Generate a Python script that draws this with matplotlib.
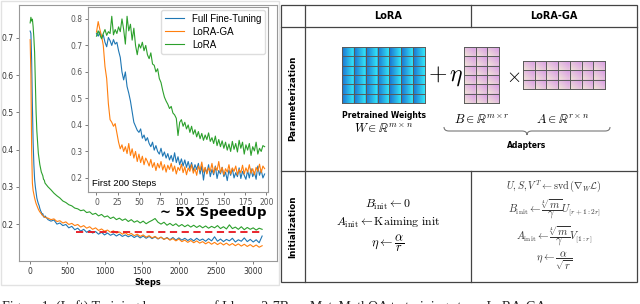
import numpy as np
import matplotlib
matplotlib.use("Agg")
import matplotlib.pyplot as plt
from matplotlib.patches import Rectangle, PathPatch
from matplotlib.path import Path

plt.rcParams['mathtext.fontset'] = 'cm'

# ---------------- data ----------------
series_names = ["Full Fine-Tuning", "LoRA-GA", "LoRA"]
series_colors = ["#1f77b4", "#ff7f0e", "#2ca02c"]

# main plot: steps 0..200 every 10, then 240..3120 every 40
full_early = [0.718, 0.712, 0.640, 0.520, 0.420, 0.360, 0.320, 0.300, 0.285, 0.270, 0.262,
              0.255, 0.250, 0.242, 0.236, 0.232, 0.225, 0.228, 0.220, 0.218, 0.222]
ga_early = [0.695, 0.600, 0.400, 0.310, 0.290, 0.280, 0.270, 0.262, 0.255, 0.250, 0.245,
            0.240, 0.236, 0.233, 0.230, 0.228, 0.225, 0.223, 0.221, 0.220, 0.218]
lora_early = [0.740, 0.755, 0.745, 0.750, 0.730, 0.700, 0.660, 0.580, 0.500, 0.450, 0.420,
              0.390, 0.375, 0.360, 0.350, 0.340, 0.335, 0.330, 0.320, 0.318, 0.310]

full_late = [0.212, 0.208, 0.211, 0.200, 0.203, 0.196, 0.199, 0.190, 0.194, 0.185, 0.189, 0.181,
             0.186, 0.178, 0.183, 0.176, 0.180, 0.173, 0.178, 0.171, 0.176, 0.170, 0.174, 0.168,
             0.173, 0.167, 0.171, 0.166, 0.170, 0.164, 0.169, 0.163, 0.168, 0.162, 0.167, 0.161,
             0.166, 0.160, 0.165, 0.159, 0.164, 0.158, 0.164, 0.157, 0.163, 0.157, 0.162, 0.156,
             0.161, 0.155, 0.162, 0.156, 0.160, 0.154, 0.161, 0.155, 0.166, 0.154, 0.160, 0.153,
             0.159, 0.155, 0.162, 0.152, 0.158, 0.154, 0.163, 0.153, 0.159, 0.152, 0.158, 0.150,
             0.168]
ga_late = [0.216, 0.212, 0.214, 0.207, 0.209, 0.203, 0.206, 0.199, 0.202, 0.196, 0.199, 0.192,
           0.196, 0.189, 0.193, 0.186, 0.190, 0.183, 0.187, 0.181, 0.184, 0.178, 0.182, 0.176,
           0.179, 0.173, 0.177, 0.171, 0.175, 0.169, 0.173, 0.167, 0.171, 0.165, 0.169, 0.163,
           0.167, 0.161, 0.165, 0.159, 0.163, 0.157, 0.161, 0.155, 0.160, 0.153, 0.157, 0.151,
           0.156, 0.150, 0.155, 0.149, 0.153, 0.147, 0.152, 0.146, 0.151, 0.145, 0.150, 0.144,
           0.149, 0.143, 0.148, 0.142, 0.147, 0.141, 0.146, 0.140, 0.145, 0.139, 0.144, 0.138,
           0.142]
lora_late = [0.300, 0.292, 0.283, 0.276, 0.270, 0.262, 0.258, 0.252, 0.249, 0.243, 0.241, 0.236,
             0.238, 0.231, 0.233, 0.226, 0.229, 0.222, 0.226, 0.219, 0.222, 0.215, 0.219, 0.212,
             0.216, 0.210, 0.214, 0.207, 0.212, 0.205, 0.209, 0.203, 0.208, 0.201, 0.206, 0.210,
             0.215, 0.205, 0.200, 0.205, 0.197, 0.202, 0.196, 0.201, 0.194, 0.199, 0.193, 0.198,
             0.192, 0.197, 0.191, 0.196, 0.190, 0.195, 0.189, 0.194, 0.190, 0.196, 0.188, 0.193,
             0.187, 0.198, 0.188, 0.192, 0.186, 0.193, 0.185, 0.191, 0.186, 0.190, 0.184, 0.189,
             0.186]

# inset: first 200 steps, every 2 steps
full_first200 = [0.745, 0.735, 0.752, 0.728, 0.740, 0.712, 0.695, 0.730, 0.718, 0.700,
                 0.722, 0.705, 0.712, 0.680, 0.655, 0.600, 0.570, 0.600, 0.545, 0.520,
                 0.490, 0.450, 0.410, 0.395, 0.380, 0.372, 0.385, 0.350, 0.362, 0.340,
                 0.352, 0.330, 0.318, 0.335, 0.305, 0.322, 0.300, 0.290, 0.312, 0.282,
                 0.298, 0.275, 0.292, 0.268, 0.285, 0.262, 0.295, 0.258, 0.280, 0.250,
                 0.272, 0.245, 0.268, 0.240, 0.262, 0.235, 0.258, 0.228, 0.250, 0.232,
                 0.255, 0.215, 0.245, 0.192, 0.238, 0.218, 0.250, 0.205, 0.232, 0.212,
                 0.245, 0.198, 0.228, 0.215, 0.240, 0.205, 0.222, 0.190, 0.230, 0.210,
                 0.235, 0.200, 0.220, 0.205, 0.238, 0.198, 0.225, 0.210, 0.195, 0.228,
                 0.200, 0.235, 0.205, 0.222, 0.195, 0.245, 0.210, 0.230, 0.200, 0.215]
ga_first200 = [0.750, 0.790, 0.760, 0.735, 0.700, 0.620, 0.575, 0.480, 0.420, 0.410,
               0.395, 0.405, 0.370, 0.335, 0.310, 0.325, 0.300, 0.318, 0.292, 0.330,
               0.285, 0.310, 0.275, 0.300, 0.262, 0.290, 0.258, 0.282, 0.250, 0.275,
               0.262, 0.245, 0.270, 0.240, 0.258, 0.228, 0.255, 0.238, 0.262, 0.230,
               0.250, 0.222, 0.248, 0.232, 0.255, 0.225, 0.245, 0.215, 0.240, 0.228,
               0.252, 0.220, 0.242, 0.212, 0.238, 0.225, 0.250, 0.218, 0.235, 0.210,
               0.245, 0.228, 0.260, 0.222, 0.240, 0.215, 0.238, 0.225, 0.255, 0.218,
               0.242, 0.228, 0.262, 0.220, 0.240, 0.212, 0.235, 0.222, 0.250, 0.215,
               0.238, 0.225, 0.245, 0.212, 0.232, 0.220, 0.248, 0.215, 0.238, 0.222,
               0.250, 0.218, 0.235, 0.212, 0.240, 0.225, 0.252, 0.220, 0.245, 0.235]
lora_first200 = [0.735, 0.755, 0.740, 0.725, 0.745, 0.760, 0.738, 0.752, 0.745, 0.810,
                 0.740, 0.760, 0.745, 0.770, 0.752, 0.800, 0.760, 0.705, 0.810, 0.755,
                 0.780, 0.720, 0.765, 0.700, 0.665, 0.705, 0.690, 0.712, 0.680, 0.700,
                 0.665, 0.650, 0.672, 0.630, 0.625, 0.600, 0.612, 0.575, 0.560, 0.530,
                 0.505, 0.490, 0.478, 0.462, 0.470, 0.445, 0.438, 0.425, 0.360, 0.410,
                 0.420, 0.395, 0.410, 0.385, 0.400, 0.372, 0.395, 0.365, 0.382, 0.355,
                 0.375, 0.348, 0.368, 0.342, 0.362, 0.345, 0.370, 0.338, 0.352, 0.330,
                 0.358, 0.322, 0.345, 0.318, 0.340, 0.312, 0.335, 0.305, 0.328, 0.300,
                 0.338, 0.308, 0.330, 0.298, 0.342, 0.312, 0.335, 0.290, 0.325, 0.305,
                 0.330, 0.285, 0.318, 0.302, 0.335, 0.290, 0.312, 0.300, 0.322, 0.318]

speedup_level = 0.179
speedup_from, speedup_to = 620, 3110

# ---------------- figure ----------------
W_PX, H_PX = 640, 304


def frac(l, t, r, b):
    return [l / W_PX, 1 - b / H_PX, (r - l) / W_PX, (b - t) / H_PX]


fig = plt.figure(figsize=(6.4, 3.04), dpi=100)

ov = fig.add_axes([0, 0, 1, 1], zorder=0)
ov.set_xlim(0, W_PX)
ov.set_ylim(H_PX, 0)
ov.axis('off')

# light frame around the left picture
ov.add_patch(Rectangle((1, 1), 278, 284, facecolor='white', edgecolor='#e2e2e2', lw=1))

# main loss curves
ax = fig.add_axes(frac(19, 5, 277, 261), zorder=1)
early_steps = 10 * np.arange(len(full_early))
for vals_e, vals_l, col in zip([full_early, ga_early, lora_early],
                               [full_late, ga_late, lora_late], series_colors):
    xs = np.concatenate([early_steps, 240 + 40 * np.arange(len(vals_l))])
    ax.plot(xs, vals_e + vals_l, color=col, lw=0.8)
ax.hlines(speedup_level, speedup_from, speedup_to, colors='#e8141c', linestyles=(0, (4, 2.5)), lw=1.3, zorder=5)
ax.text(2460, 0.232, '~ 5X SpeedUp', fontsize=9.5, fontweight='bold', ha='center', va='center')
ax.set_xlim(-150, 3320)
ax.set_ylim(0.101, 0.788)
ax.set_xticks([0, 500, 1000, 1500, 2000, 2500, 3000])
ax.set_yticks([0.2, 0.3, 0.4, 0.5, 0.6, 0.7])
ax.tick_params(labelsize=5.5, length=2, width=0.6, color='#666', labelcolor='#333', pad=2)
ax.set_xlabel('Steps', fontsize=6, fontweight='bold', labelpad=1.5)
for s in ax.spines.values():
    s.set_color('#999')
    s.set_linewidth(0.8)

# inset: first 200 steps
axi = fig.add_axes(frac(88, 7, 268, 192), zorder=2)
inset_steps = 2 * np.arange(len(full_first200))
for vals, col, name in zip([full_first200, ga_first200, lora_first200], series_colors, series_names):
    axi.plot(inset_steps, vals, color=col, lw=0.8, label=name)
axi.set_xlim(-10, 202)
axi.set_ylim(0.147, 0.845)
axi.set_xticks([0, 25, 50, 75, 100, 125, 150, 175, 200])
axi.set_yticks([0.2, 0.3, 0.4, 0.5, 0.6, 0.7, 0.8])
axi.tick_params(labelsize=5.5, length=2, width=0.6, color='#666', labelcolor='#555', pad=2)
for s in axi.spines.values():
    s.set_color('#999')
    s.set_linewidth(0.8)
axi.text(0.02, 0.02, 'First 200 Steps', transform=axi.transAxes, fontsize=6.8,
         family='Liberation Sans', ha='left', va='bottom')
axi.legend(loc='upper right', prop={'family': 'Liberation Sans', 'size': 7},
           handlelength=2.0, labelspacing=0.3, borderaxespad=0.3, framealpha=1, edgecolor='#ddd')

# ---------------- table on the right ----------------
LC = '#444'
ov.add_patch(Rectangle((281, 5), 356, 277, fill=False, edgecolor=LC, lw=0.9))
ov.plot([281, 637], [27, 27], color=LC, lw=0.9)
ov.plot([281, 637], [171, 171], color=LC, lw=0.9)
ov.plot([305, 305], [5, 282], color=LC, lw=0.9)
ov.plot([471, 471], [5, 27], color=LC, lw=0.9)
ov.plot([471, 471], [171, 282], color=LC, lw=0.9)

ov.text(388, 16, 'LoRA', fontsize=7, fontweight='bold', ha='center', va='center')
ov.text(554, 16, 'LoRA-GA', fontsize=7, fontweight='bold', ha='center', va='center')
ov.text(293, 98, 'Parameterization', fontsize=6.3, fontweight='bold', rotation=90, ha='center', va='center')
ov.text(293, 227, 'Initialization', fontsize=6.3, fontweight='bold', rotation=90, ha='center', va='center')


def draw_matrix(x0, y0, x1, y1, ncol, nrow, c_lo, c_hi, diag):
    n = 20
    u, v = np.meshgrid(np.linspace(0, 1, n), np.linspace(0, 1, n))
    t = (u + (1 - v)) / 2 if diag else u
    lo = np.array(matplotlib.colors.to_rgb(c_lo))
    hi = np.array(matplotlib.colors.to_rgb(c_hi))
    cell = lo * (1 - t[..., None]) + hi * t[..., None]
    img = np.tile(cell, (nrow, ncol, 1))
    ov.imshow(img, extent=(x0, x1, y1, y0), origin='upper', aspect='auto',
              interpolation='bilinear', zorder=2)
    gc = '#5a5a5a'
    for i in range(ncol + 1):
        xx = x0 + i * (x1 - x0) / ncol
        ov.plot([xx, xx], [y0, y1], color=gc, lw=0.7, zorder=3)
    for j in range(nrow + 1):
        yy = y0 + j * (y1 - y0) / nrow
        ov.plot([x0, x1], [yy, yy], color=gc, lw=0.7, zorder=3)


draw_matrix(342, 47, 425, 103, 7, 6, '#1b74d2', '#33e6f7', False)
draw_matrix(464, 47, 499, 103, 3, 6, '#f1e6d6', '#d99be6', True)
draw_matrix(523, 61, 605, 89, 7, 3, '#f1e6d6', '#d99be6', True)

ov.text(446, 76, r'$+\,\eta$', fontsize=17, ha='center', va='center')
ov.text(513, 76, r'$\times$', fontsize=14, ha='center', va='center')

ov.text(384, 115, 'Pretrained Weights', fontsize=5.5, fontweight='bold', ha='center', va='center')
ov.text(384, 128, r'$W \in \mathbb{R}^{m\times n}$', fontsize=9, ha='center', va='center')
ov.text(482, 120, r'$B \in \mathbb{R}^{m\times r}$', fontsize=9, ha='center', va='center')
ov.text(563, 120, r'$A \in \mathbb{R}^{r\times n}$', fontsize=9, ha='center', va='center')

# brace under the adapters
xa, xb, ya, yb, yc, r = 444, 610, 127, 131, 135, 5
xm = (xa + xb) / 2
verts = [(xa, ya), (xa, yb), (xa + r, yb), (xm - r, yb), (xm, yb), (xm, yc),
         (xm, yb), (xm + r, yb), (xb - r, yb), (xb, yb), (xb, ya)]
codes = [Path.MOVETO, Path.CURVE3, Path.CURVE3, Path.LINETO, Path.CURVE3, Path.CURVE3,
         Path.CURVE3, Path.CURVE3, Path.LINETO, Path.CURVE3, Path.CURVE3]
ov.add_patch(PathPatch(Path(verts, codes), fill=False, edgecolor='#777', lw=0.8))
ov.text(527, 145, 'Adapters', fontsize=5.5, fontweight='bold', ha='center', va='center')

# initialisation formulas
ov.text(388, 205, r'$B_{\mathrm{init}} \leftarrow 0$', fontsize=8.5, ha='center', va='center')
ov.text(388, 223, r'$A_{\mathrm{init}} \leftarrow \mathrm{Kaiming\ init}$', fontsize=8.5, ha='center', va='center')
ov.text(388, 243, r'$\eta \leftarrow \dfrac{\alpha}{r}$', fontsize=9, ha='center', va='center')

GA_C = '#333'
ov.text(554, 186, r'$U, S, V^T \leftarrow \mathrm{svd}\,(\nabla_W \mathcal{L})$', fontsize=7.2,
        ha='center', va='center', color=GA_C)
ov.text(554, 209, r'$B_{\mathrm{init}} \leftarrow \dfrac{\sqrt[4]{m}}{\gamma} U_{[r+1:2r]}$', fontsize=7.6,
        ha='center', va='center', color=GA_C)
ov.text(554, 236, r'$A_{\mathrm{init}} \leftarrow \dfrac{\sqrt[4]{m}}{\gamma} V_{[1:r]}$', fontsize=7.6,
        ha='center', va='center', color=GA_C)
ov.text(554, 261, r'$\eta \leftarrow \dfrac{\alpha}{\sqrt{r}}$', fontsize=7.6,
        ha='center', va='center', color=GA_C)

# caption, cut off by the bottom edge as in the source picture
ov.text(2, 300, 'Figure 1: (Left) Training loss curves of Llama 2-7B on MetaMathQA to training steps. LoRA-GA',
        fontsize=10, family='Liberation Serif', ha='left', va='top', color='#222', clip_on=False)

fig.savefig('out.png', dpi=100)
